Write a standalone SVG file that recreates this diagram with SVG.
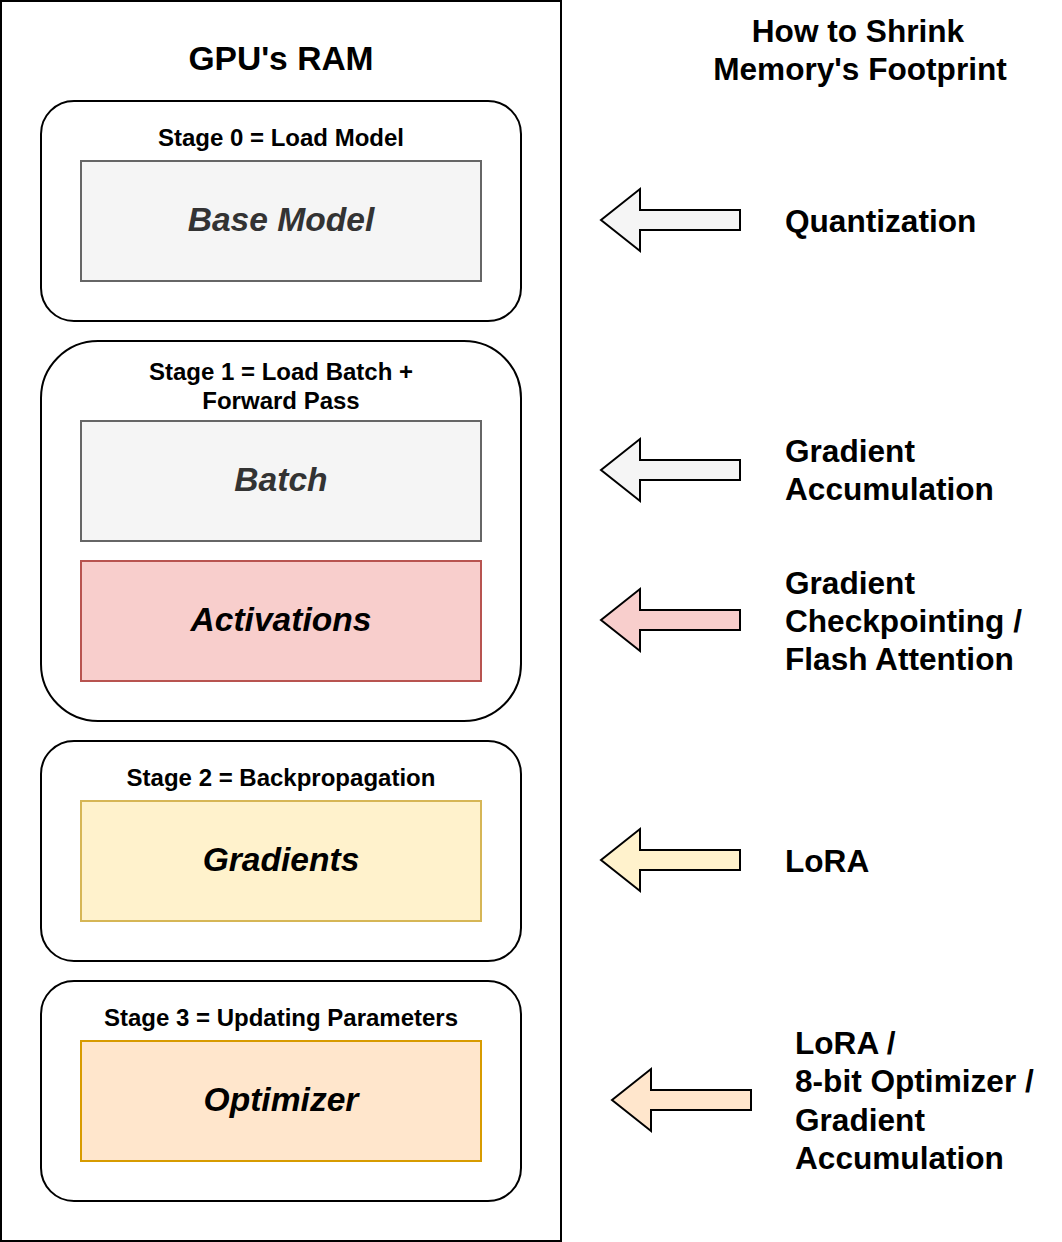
<svg xmlns="http://www.w3.org/2000/svg" width="1062" height="1242" viewBox="0 0 1062 1242">
<style>
text{font-family:"Liberation Sans",Arial,sans-serif;font-weight:bold;fill:#000}
.stage{fill:#fff;stroke:#000;stroke-width:2}
.lbl{font-size:24px;text-anchor:middle}
.inner{font-size:33.6px;font-style:italic;text-anchor:middle}
.gray{fill:#f5f5f5;stroke:#666;stroke-width:2}
.red{fill:#f8cecc;stroke:#b85450;stroke-width:2}
.yel{fill:#fff2cc;stroke:#d6b656;stroke-width:2}
.ora{fill:#ffe6cc;stroke:#d79b00;stroke-width:2}
.arrow{stroke:#000;stroke-width:2;stroke-linejoin:miter}
.side{font-size:31.6px}
</style>
<defs>
<path id="arr" d="M0,0 L39,-31 L39,-10 L139,-10 L139,10 L39,10 L39,31 Z"/>
</defs>
<rect x="1" y="1" width="560" height="1240" fill="#fff" stroke="#000" stroke-width="2"/>
<text x="281" y="70" style="font-size:33.6px;text-anchor:middle">GPU's RAM</text>
<g id="title-right">
<text x="858" y="42" class="side" text-anchor="middle">How to Shrink</text>
<text x="860" y="80" class="side" text-anchor="middle">Memory's Footprint</text>
</g>
<g id="stage0">
<rect class="stage" x="41" y="101" width="480" height="220" rx="33"/>
<text class="lbl" x="281" y="146">Stage 0 = Load Model</text>
</g>
<g id="base-model">
<rect class="gray" x="81" y="161" width="400" height="120"/>
<text class="inner" x="281" y="231" style="fill:#333">Base Model</text>
</g>
<g id="stage1">
<rect class="stage" x="41" y="341" width="480" height="380" rx="57"/>
<text class="lbl" x="281" y="380">Stage 1 = Load Batch +</text>
<text class="lbl" x="281" y="409">Forward Pass</text>
</g>
<g id="batch">
<rect class="gray" x="81" y="421" width="400" height="120"/>
<text class="inner" x="281" y="491" style="fill:#333">Batch</text>
</g>
<g id="activations">
<rect class="red" x="81" y="561" width="400" height="120"/>
<text class="inner" x="281" y="631">Activations</text>
</g>
<g id="stage2">
<rect class="stage" x="41" y="741" width="480" height="220" rx="33"/>
<text class="lbl" x="281" y="786">Stage 2 = Backpropagation</text>
</g>
<g id="gradients">
<rect class="yel" x="81" y="801" width="400" height="120"/>
<text class="inner" x="281" y="871">Gradients</text>
</g>
<g id="stage3">
<rect class="stage" x="41" y="981" width="480" height="220" rx="33"/>
<text class="lbl" x="281" y="1026">Stage 3 = Updating Parameters</text>
</g>
<g id="optimizer">
<rect class="ora" x="81" y="1041" width="400" height="120"/>
<text class="inner" x="281" y="1111">Optimizer</text>
</g>
<g id="connectors">
<use href="#arr" class="arrow" x="601" y="220" fill="#f5f5f5"/>
<use href="#arr" class="arrow" x="601" y="470" fill="#f5f5f5"/>
<use href="#arr" class="arrow" x="601" y="620" fill="#f8cecc"/>
<use href="#arr" class="arrow" x="601" y="860" fill="#fff2cc"/>
<use href="#arr" class="arrow" x="612" y="1100" fill="#ffe6cc"/>
</g>
<g id="quantization"><text class="side" x="785" y="232">Quantization</text></g>
<g id="grad-accum">
<text class="side" x="785" y="462">Gradient</text>
<text class="side" x="785" y="500">Accumulation</text>
</g>
<g id="grad-ckpt">
<text class="side" x="785" y="594">Gradient</text>
<text class="side" x="785" y="632">Checkpointing /</text>
<text class="side" x="785" y="670">Flash Attention</text>
</g>
<g id="lora"><text class="side" x="785" y="872">LoRA</text></g>
<g id="lora-opt">
<text class="side" x="795" y="1054">LoRA /</text>
<text class="side" x="795" y="1092">8-bit Optimizer /</text>
<text class="side" x="795" y="1131">Gradient</text>
<text class="side" x="795" y="1169">Accumulation</text>
</g>
</svg>
